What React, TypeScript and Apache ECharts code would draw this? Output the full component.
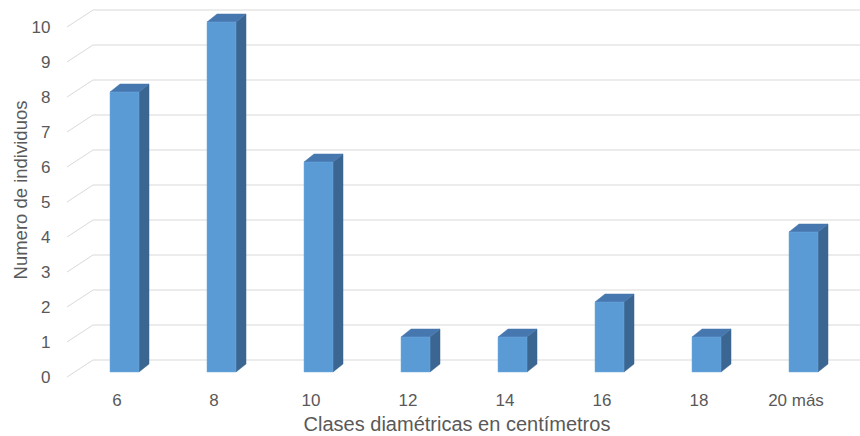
import React, { useEffect, useRef } from "react";
import * as echarts from "echarts";

const categories = ["6", "8", "10", "12", "14", "16", "18", "20 más"];
const values = [8, 10, 6, 1, 1, 2, 1, 4];
const yTicks = [0, 1, 2, 3, 4, 5, 6, 7, 8, 9, 10];
const xTitle = "Clases diamétricas en centímetros";
const yTitle = "Numero de individuos";

const FONT = "Liberation Sans";
const TEXT = "#595959";

export default function App() {
  const ref = useRef<HTMLDivElement>(null);
  useEffect(() => {
    if (!ref.current) return;
    const chart = echarts.init(ref.current, null, { renderer: "svg" });
    chart.setOption({
      animation: false,
      backgroundColor: "#ffffff",
      grid: { left: 68.5, right: 15.5, top: 27, bottom: 59, containLabel: false },
      xAxis: {
        type: "category",
        data: categories,
        axisLine: { show: false },
        axisTick: { show: false },
        axisLabel: { color: TEXT, fontFamily: FONT, fontSize: 17, margin: 15 },
      },
      yAxis: {
        type: "value",
        min: 0,
        max: 10,
        interval: 1,
        axisLine: { show: false },
        axisTick: { show: false },
        splitLine: { show: false },
        axisLabel: { color: TEXT, fontFamily: FONT, fontSize: 17, margin: 18 },
      },
      graphic: [
        {
          type: "text",
          x: 20,
          y: 190,
          rotation: Math.PI / 2,
          style: {
            text: yTitle,
            fill: TEXT,
            font: `18.5px "${FONT}"`,
            align: "center",
            verticalAlign: "middle",
          },
        },
        {
          type: "text",
          x: 457,
          y: 424,
          style: {
            text: xTitle,
            fill: TEXT,
            font: `20px "${FONT}"`,
            align: "center",
            verticalAlign: "middle",
          },
        },
      ],
      series: [
        {
          type: "custom",
          silent: true,
          z: 1,
          data: yTicks.map((v) => [0, v]),
          renderItem: (params: any, api: any) => {
            const cs = params.coordSys;
            const y = api.coord([0, api.value(1)])[1];
            return {
              type: "polyline",
              shape: {
                points: [
                  [cs.x - 1.5, y],
                  [cs.x + 24.5, y - 17],
                  [cs.x + cs.width + 16, y - 17],
                ],
              },
              style: { stroke: "#D9D9D9", lineWidth: 1, fill: null },
            };
          },
        },
        {
          type: "custom",
          z: 2,
          data: values.map((v, i) => [i, v]),
          renderItem: (params: any, api: any) => {
            const i = api.value(0);
            const v = api.value(1);
            const top = api.coord([i, v]);
            const base = api.coord([i, 0]);
            const c = top[0];
            const x0 = c - 7;
            const x1 = c + 22;
            const yb = base[1] - 5;
            const yt = top[1] - 5;
            const dx = 10;
            const dy = -8;
            return {
              type: "group",
              children: [
                {
                  type: "polygon",
                  shape: { points: [[x1, yb], [x1 + dx, yb + dy], [x1 + dx, yt + dy], [x1, yt]] },
                  style: { fill: "#3B6691", stroke: "#3B6691", lineWidth: 0.5 },
                },
                {
                  type: "polygon",
                  shape: { points: [[x0, yt], [x0 + dx, yt + dy], [x1 + dx, yt + dy], [x1, yt]] },
                  style: { fill: "#4677AE", stroke: "#4677AE", lineWidth: 0.5 },
                },
                {
                  type: "rect",
                  shape: { x: x0, y: yt, width: x1 - x0, height: yb - yt },
                  style: { fill: "#5B9BD5", stroke: "#6FA8DC", lineWidth: 0.5 },
                },
              ],
            };
          },
        },
      ],
    });
    return () => chart.dispose();
  }, []);
  return <div ref={ref} style={{ width: 860, height: 436, position: "absolute", left: 0, top: 0 }} />;
}
